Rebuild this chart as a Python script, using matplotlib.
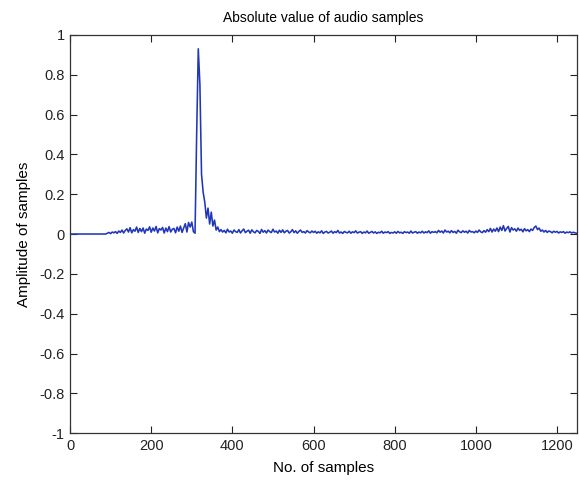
import numpy as np
import matplotlib
matplotlib.use("Agg")
import matplotlib.pyplot as plt
from matplotlib.ticker import FuncFormatter, MultipleLocator

plt.rcParams["font.family"] = ["Liberation Sans", "DejaVu Sans"]

# |x[n]| of the recording, one value every SAMPLE_STEP samples
SAMPLE_STEP = 4

# samples 0..88: silence before the recording starts
quiet_lead = [0.0, 0.0, 0.0, 0.0, 0.0, 0.0, 0.0, 0.0, 0.0, 0.0, 0.0, 0.0,
              0.0, 0.0, 0.0, 0.0, 0.0, 0.0, 0.0, 0.0, 0.0, 0.0, 0.0]

# samples 92..308: background noise before the event
pre_onset = [0.004, 0.008, 0.002, 0.010, 0.006, 0.012, 0.003, 0.015, 0.008, 0.020, 0.005, 0.018,
             0.026, 0.010, 0.032, 0.006, 0.022, 0.014, 0.035, 0.008, 0.028, 0.012, 0.030, 0.004,
             0.025, 0.018, 0.036, 0.009, 0.030, 0.015, 0.038, 0.006, 0.027, 0.020, 0.033, 0.005,
             0.030, 0.012, 0.037, 0.010, 0.024, 0.028, 0.006, 0.035, 0.014, 0.040, 0.008, 0.030,
             0.052, 0.010, 0.058, 0.035, 0.060, 0.012, 0.004]

# samples 312..376: the impulse and its decay
onset_burst = [0.50, 0.93, 0.75, 0.30, 0.21, 0.16, 0.08, 0.13, 0.05, 0.11, 0.04, 0.07,
               0.02, 0.035, 0.012, 0.022, 0.010]

# samples 380..596
tail_a = [0.018, 0.006, 0.024, 0.010, 0.015, 0.004, 0.020, 0.012, 0.008, 0.022, 0.005, 0.016,
          0.025, 0.007, 0.014, 0.019, 0.004, 0.021, 0.011, 0.006, 0.018, 0.013, 0.003, 0.023,
          0.009, 0.017, 0.005, 0.020, 0.012, 0.007, 0.024, 0.010, 0.015, 0.004, 0.019, 0.008,
          0.021, 0.006, 0.014, 0.018, 0.005, 0.011, 0.022, 0.007, 0.016, 0.004, 0.013, 0.020,
          0.008, 0.012, 0.005, 0.017, 0.010, 0.006, 0.015]

# samples 600..896
tail_b = [0.008, 0.014, 0.004, 0.011, 0.006, 0.016, 0.003, 0.010, 0.013, 0.005, 0.009, 0.015,
          0.004, 0.012, 0.007, 0.018, 0.005, 0.010, 0.003, 0.013, 0.008, 0.006, 0.014, 0.004,
          0.011, 0.007, 0.016, 0.005, 0.009, 0.012, 0.003, 0.010, 0.006, 0.015, 0.004, 0.008,
          0.013, 0.005, 0.011, 0.003, 0.009, 0.006, 0.014, 0.004, 0.010, 0.007, 0.012, 0.003,
          0.008, 0.005, 0.011, 0.004, 0.013, 0.006, 0.009, 0.003, 0.012, 0.007, 0.010, 0.004,
          0.015, 0.005, 0.009, 0.012, 0.004, 0.010, 0.006, 0.014, 0.005, 0.011, 0.007, 0.016,
          0.004, 0.012, 0.008]

# samples 900..1048
tail_c = [0.012, 0.006, 0.018, 0.009, 0.015, 0.005, 0.020, 0.010, 0.014, 0.006, 0.017, 0.008,
          0.013, 0.004, 0.019, 0.011, 0.007, 0.016, 0.009, 0.014, 0.005, 0.018, 0.010, 0.012,
          0.006, 0.015, 0.008, 0.020, 0.011, 0.007, 0.017, 0.009, 0.022, 0.012, 0.028, 0.010,
          0.025, 0.014]

# samples 1052..1248
tail_d = [0.030, 0.012, 0.035, 0.018, 0.042, 0.015, 0.028, 0.038, 0.010, 0.032, 0.020, 0.026,
          0.014, 0.030, 0.018, 0.024, 0.011, 0.027, 0.016, 0.022, 0.012, 0.025, 0.018, 0.033,
          0.040, 0.022, 0.030, 0.014, 0.020, 0.010, 0.018, 0.008, 0.015, 0.012, 0.006, 0.014,
          0.009, 0.013, 0.005, 0.011, 0.008, 0.012, 0.004, 0.010, 0.007, 0.011, 0.005, 0.009,
          0.006, 0.004]

amplitude = np.array(quiet_lead + pre_onset + onset_burst + tail_a + tail_b + tail_c + tail_d)
samples = np.arange(len(amplitude)) * SAMPLE_STEP

fig = plt.figure(figsize=(5.79, 4.84), dpi=100)
ax = fig.add_axes([0.121, 0.105, 0.876, 0.823])

ax.plot(samples, amplitude, color="#2236b8", linewidth=1.15)

ax.set_xlim(0, 1250)
ax.set_ylim(-1, 1)
ax.xaxis.set_major_locator(MultipleLocator(200))
ax.yaxis.set_major_locator(MultipleLocator(0.2))
ax.yaxis.set_major_formatter(FuncFormatter(lambda v, _: "%g" % round(v, 2)))
ax.xaxis.set_major_formatter(FuncFormatter(lambda v, _: "%g" % v))

ax.tick_params(direction="in", length=5, width=0.8, top=True, right=True,
               labelsize=10.5, colors="#222222", pad=4)
for s in ax.spines.values():
    s.set_color("#333333")
    s.set_linewidth(0.9)

ax.set_title("Absolute value of audio samples", fontsize=10, pad=9)
ax.set_xlabel("No. of samples", fontsize=11, labelpad=6)
ax.set_ylabel("Amplitude of samples", fontsize=11, labelpad=6)

fig.savefig("out.png", dpi=100)
